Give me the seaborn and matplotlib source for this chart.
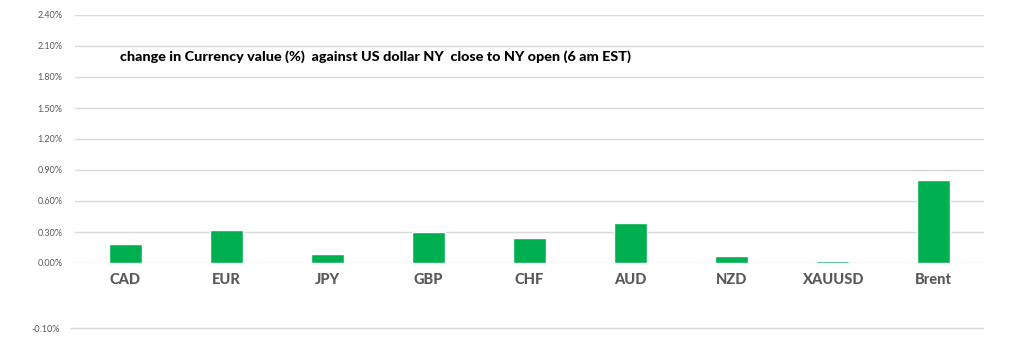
import matplotlib
matplotlib.use("Agg")
import matplotlib.pyplot as plt
import seaborn as sns
import pandas as pd
from matplotlib.ticker import FixedLocator, FuncFormatter

categories = ["CAD", "EUR", "JPY", "GBP", "CHF", "AUD", "NZD", "XAUUSD", "Brent"]
values = [0.18, 0.32, 0.09, 0.30, 0.24, 0.39, 0.07, 0.015, 0.80]
y_ticks = [0.0, 0.3, 0.6, 0.9, 1.2, 1.5, 1.8, 2.1, 2.4]
lower_tick = [-0.10]
title = "change in Currency value (%)  against US dollar NY  close to NY open (6 am EST)"

sns.set_theme(style="white")
plt.rcParams['font.family'] = ['Lato', 'DejaVu Sans']

df = pd.DataFrame({"cat": categories, "val": values})

fig = plt.figure(figsize=(10.24, 3.56), dpi=100)
fig.patch.set_facecolor("white")
ax = fig.add_axes([75/1024, 1-263/356, 909/1024, 248/356])

sns.barplot(data=df, x="cat", y="val", color="#00B050", width=0.32,
            saturation=1, ax=ax, zorder=3)
ax.set_ylim(0, 2.4)
ax.set_xlim(-0.5, len(categories)-0.5)
ax.yaxis.set_major_locator(FixedLocator(y_ticks))
ax.yaxis.set_major_formatter(FuncFormatter(lambda v, p: f"{v:.2f}%"))
ax.grid(axis="y", color="#d9d9d9", linewidth=1.0, zorder=0)
ax.grid(axis="x", visible=False)
for s in ax.spines.values():
    s.set_visible(False)
ax.set_xlabel("")
ax.set_ylabel("")
ax.set_xticks(range(len(categories)), categories, fontweight="black",
              fontsize=10.5, color="#595959")
ax.tick_params(axis="y", length=0, pad=9, labelsize=6.5, labelcolor="#595959")
ax.tick_params(axis="x", length=0, pad=7)

ax.text(120/1024, 1-57/356, title, transform=fig.transFigure, fontsize=10.4,
        fontweight="black", color="black", va="center", ha="left")

# lower separate gridline
ax2 = fig.add_axes([70/1024, 1-338/356, 914/1024, 20/356])
ax2.set_ylim(-0.15, -0.05)
ax2.set_xlim(0, 1)
ax2.yaxis.set_major_locator(FixedLocator(lower_tick))
ax2.yaxis.set_major_formatter(FuncFormatter(lambda v, p: f"{v:.2f}%"))
ax2.grid(axis="y", color="#d9d9d9", linewidth=1.0)
ax2.grid(axis="x", visible=False)
ax2.set_xticks([])
for s in ax2.spines.values():
    s.set_visible(False)
ax2.tick_params(axis="y", length=0, pad=7, labelsize=6.5, labelcolor="#595959")
ax2.set_facecolor("none")

fig.savefig("out.png", dpi=100, facecolor="white")
